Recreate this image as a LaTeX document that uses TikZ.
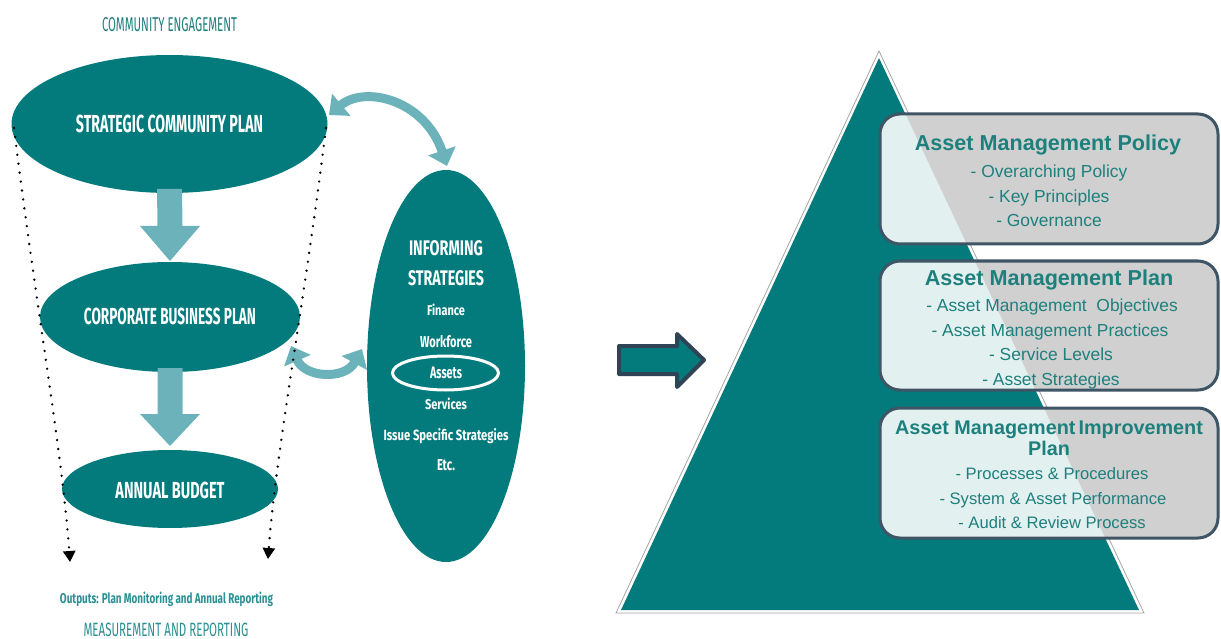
\documentclass[tikz,border=0pt]{standalone}
\usepackage{fontspec}
\usepackage{graphicx}
\setmainfont{Liberation Sans}
\newfontfamily\cond{Fira Sans}
\usetikzlibrary{arrows.meta,shapes.geometric,calc}
\definecolor{teal1}{HTML}{037B7C}
\definecolor{lteal}{HTML}{6BB2BA}
\definecolor{tealtxt}{HTML}{1D807D}
\definecolor{ltxt}{HTML}{2B8F94}
\definecolor{slate}{HTML}{2E4455}
\definecolor{boxedge}{HTML}{3E5566}
\definecolor{boxgrey}{HTML}{D0D0D0}
\definecolor{boxlight}{HTML}{E3F0F0}
\newcommand\fitt[3]{\resizebox{#1pt}{#2pt}{\cond\bfseries\fontsize{10}{12}\selectfont #3}}
\newcommand\fittr[3]{\resizebox{#1pt}{#2pt}{\cond\fontsize{10}{12}\selectfont #3}}
\begin{document}
\begin{tikzpicture}[x=1pt,y=-1pt,
  oval/.style={ellipse, fill=teal1, inner sep=0pt, outer sep=0pt},
  lbl/.style={anchor=base, inner sep=0pt, text=white},
  tlbl/.style={anchor=base, inner sep=0pt, text=ltxt},
  dblarrow/.style={draw=lteal, line width=9pt, {Triangle[length=16pt,width=28pt]}-{Triangle[length=16pt,width=28pt]}},
  dotarrow/.style={draw=black, line width=2.6pt, dash pattern=on 0pt off 9pt, line cap=round, -{Triangle[length=11pt,width=12pt]}},
  boxshape/.style={rectangle, draw=none, inner sep=0pt, outer sep=0pt, minimum width=338pt},
  boxborder/.style={draw=boxedge, line width=3pt, rounded corners=20pt},
  btitle/.style={anchor=base, text=tealtxt, font=\bfseries\fontsize{21.6}{24}\selectfont, inner sep=0pt},
  btitlesm/.style={anchor=base, text=tealtxt, font=\bfseries\fontsize{19.8}{22}\selectfont, inner sep=0pt},
  bitem/.style={anchor=base, text=tealtxt, font=\fontsize{17.4}{20}\selectfont, inner sep=0pt},
  bitemsm/.style={anchor=base, text=tealtxt, font=\fontsize{16.6}{19}\selectfont, inner sep=0pt}
]
\useasboundingbox (0,0) rectangle (1221,639);

% ---------- left part ----------
\node[oval, minimum width=316pt, minimum height=138pt] (scp) at (169.5,124) {};
\node[oval, minimum width=260pt, minimum height=110pt] (cbp) at (170,317) {};
\node[oval, minimum width=216pt, minimum height=78pt] (ab) at (170,489) {};
\node[oval, minimum width=158pt, minimum height=392pt] (inf) at (446,366) {};

% block arrows down
\fill[lteal] ($(scp.south)+(-12.5,-4)$) -- ($(cbp.north)+(-12.5,-36)$) -- ($(cbp.north)+(-30,-36)$)
  -- ($(cbp.north)+(0,-1)$) -- ($(cbp.north)+(30,-36)$) -- ($(cbp.north)+(12.5,-36)$) -- ($(scp.south)+(12.5,-4)$) -- cycle;
\fill[lteal] ($(cbp.south)+(-12.5,-4)$) -- ($(ab.north)+(-12.5,-36)$) -- ($(ab.north)+(-30,-36)$)
  -- ($(ab.north)+(0,-4)$) -- ($(ab.north)+(30,-36)$) -- ($(ab.north)+(12.5,-36)$) -- ($(cbp.south)+(12.5,-4)$) -- cycle;

% texts in ellipses
\node[lbl] (tscp) at (169.5,133) {\fitt{187}{17.5}{STRATEGIC COMMUNITY PLAN}};
\node[lbl] (tcbp) at (170,324) {\fitt{172}{16.5}{CORPORATE BUSINESS PLAN}};
\node[lbl] (tab) at (170,498) {\fitt{109}{16.5}{ANNUAL BUDGET}};
\node[lbl] (tinf1) at (446,256) {\fitt{74}{15}{INFORMING}};
\node[lbl] (tinf2) at (446,285) {\fitt{76}{15}{STRATEGIES}};
\node[lbl] (tfin) at (446,316) {\fitt{38}{11.5}{Finance}};
\node[lbl] (twf) at (446,347) {\fitt{52}{12}{Workforce}};
\node[lbl] (tas) at (446,378) {\fitt{32}{11.5}{Assets}};
\node[lbl] (tsv) at (446,409) {\fitt{42}{11.5}{Services}};
\node[lbl] (tiss) at (446,440) {\fitt{125}{12}{Issue Specific Strategies}};
\node[lbl] (tetc) at (446,470) {\fitt{18}{11}{Etc.}};
\node[ellipse, draw=white, line width=3pt, minimum width=106pt, minimum height=34pt, inner sep=0pt] (asring) at (445.5,373) {};

% curved double arrows
\coordinate (c1) at (329,115);
\coordinate (c2) at (447,166);
\draw[dblarrow] (c1) .. controls (365,85) and (425,100) .. (c2);
\coordinate (c3) at (291,346);
\coordinate (c4) at (362,349);
\draw[dblarrow] (c3) .. controls (305,378) and (345,380) .. (c4);

% dotted arrows
\coordinate (d1) at (14,128);
\coordinate (d2) at (70,562);
\coordinate (d3) at (326,128);
\coordinate (d4) at (268,559);
\draw[dotarrow] (d1) .. controls (35,300) and (62,450) .. (d2);
\draw[dotarrow] (d3) .. controls (305,300) and (276,450) .. (d4);

% captions
\node[tlbl, text=tealtxt] (tce) at (169.5,32) {\fittr{135}{14}{COMMUNITY ENGAGEMENT}};
\node[tlbl] (tout) at (166.5,603) {\fitt{213}{11.5}{Outputs: Plan Monitoring and Annual Reporting}};
\node[tlbl] (tmr) at (166,636) {\fittr{165}{13.5}{MEASUREMENT AND REPORTING}};

% ---------- right part ----------
% block arrow
\draw[fill=teal1, draw=slate, line width=4pt, line join=round]
  (619,346) -- (677,346) -- (677,334) -- (704,360) -- (677,387) -- (677,374) -- (619,374) -- cycle;

% pyramid
\draw[draw=gray!70, line width=0.8pt, fill=white] (879,51) -- (1144,613) -- (616,613) -- cycle;
\fill[teal1] (879,58) -- (1139,610) -- (621,610) -- cycle;

% boxes
\node[boxshape, minimum height=130pt] (b1) at (1049,179) {};
\node[boxshape, minimum height=129pt] (b2) at (1049,325.5) {};
\node[boxshape, minimum height=130pt] (b3) at (1049,473) {};
\foreach \b in {b1,b2,b3}{
  \fill[boxgrey, rounded corners=20pt] (\b.south west) rectangle (\b.north east);
  \begin{scope}
    \clip (879,58) -- (1139,610) -- (621,610) -- cycle;
    \fill[boxlight, rounded corners=20pt] (\b.south west) rectangle (\b.north east);
  \end{scope}
  \draw[boxborder] (\b.south west) rectangle (\b.north east);
}

\node[btitle] (t1) at (1048,151) {Asset Management Policy};
\node[bitem] (i11) at (1049,178) {- Overarching Policy};
\node[bitem] (i12) at (1049,203) {- Key Principles};
\node[bitem] (i13) at (1049,227) {- Governance};

\node[btitle] (t2) at (1049,285) {Asset Management Plan};
\node[bitem] (i21) at (1052,311) {- Asset Management\ \ Objectives};
\node[bitem] (i22) at (1050,336) {- Asset Management Practices};
\node[bitem] (i23) at (1051,360) {- Service Levels};
\node[bitem] (i24) at (1051,385) {- Asset Strategies};

\node[btitlesm] (t3a) at (1049,434) {Asset Management\hspace{-0.12em} Improvement};
\node[btitlesm] (t3b) at (1049,455) {Plan};
\node[bitemsm] (i31) at (1052,479) {- Processes \& Procedures};
\node[bitemsm] (i32) at (1053,504) {- System \& Asset Performance};
\node[bitemsm] (i33) at (1052,528) {- Audit \& Review Process};
\end{tikzpicture}
\end{document}
